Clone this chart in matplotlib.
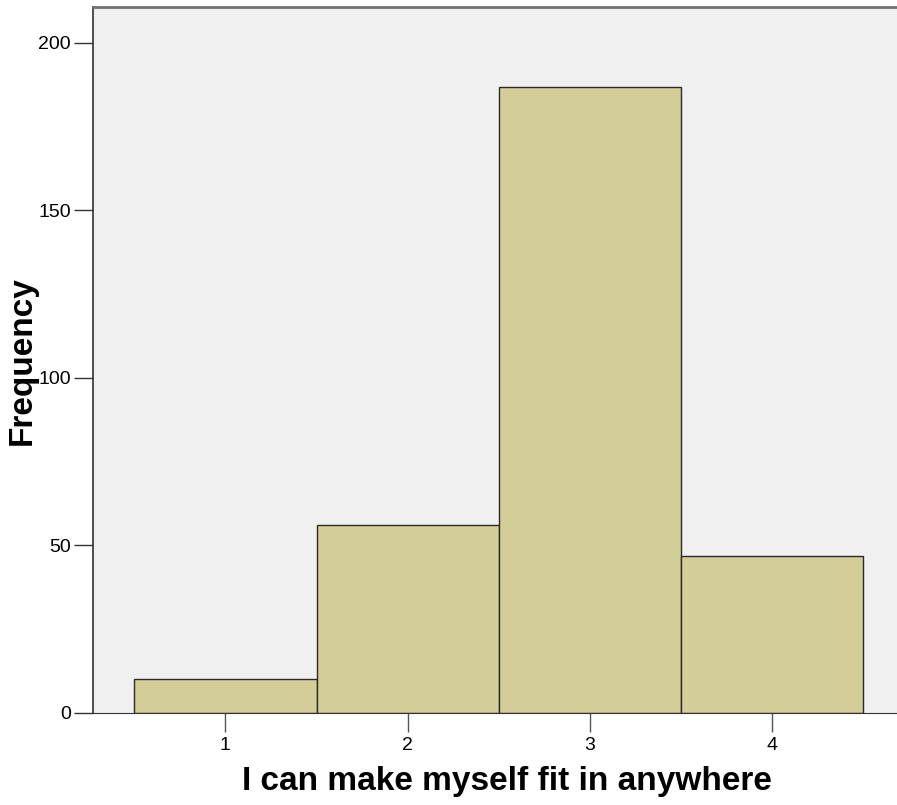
import matplotlib.pyplot as plt

categories = [1, 2, 3, 4]
frequencies = [10, 56, 187, 47]

plt.rcParams["font.family"] = ["Liberation Sans", "DejaVu Sans"]

fig = plt.figure(figsize=(8.97, 8.05), dpi=100)
ax = fig.add_axes([0.1037, 0.1143, 0.8963, 0.8764])
ax.set_facecolor("#f0f0f0")

ax.bar(categories, frequencies, width=1.0, color="#d3ce97",
       edgecolor="#2a2a2a", linewidth=1.0, zorder=2)

ax.set_xlim(0.274, 4.684)
ax.set_ylim(0, 210.6)
ax.set_xticks(categories)
ax.set_yticks([0, 50, 100, 150, 200])

ax.spines["right"].set_visible(False)
ax.spines["top"].set_color("#707070")
ax.spines["top"].set_linewidth(2)
ax.spines["left"].set_color("#333333")
ax.spines["left"].set_linewidth(1.2)
ax.spines["bottom"].set_color("#333333")

ax.tick_params(axis="y", length=14, width=1, color="#333333",
               labelsize=14, pad=2)
ax.tick_params(axis="x", length=14, width=1, color="#555555",
               labelsize=14, pad=3)

ax.set_xlabel("I can make myself fit in anywhere", fontsize=24,
              fontweight="bold", labelpad=8)
ax.xaxis.set_label_coords(0.515, -0.075)
ax.set_ylabel("Frequency", fontsize=24, fontweight="bold", labelpad=0)

fig.savefig("out.png", dpi=100)
